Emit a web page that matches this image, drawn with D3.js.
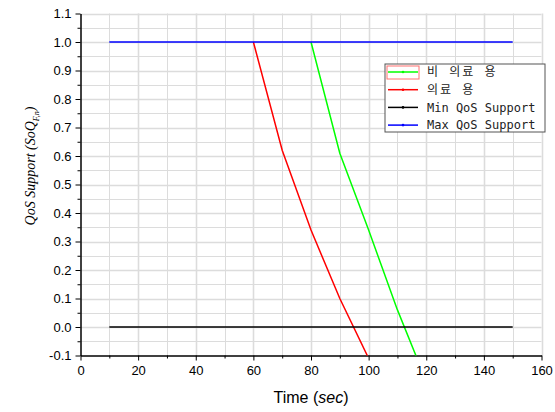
<!DOCTYPE html>
<html lang="ko">
<head>
    <meta charset="UTF-8">
    <title>QoS Support</title>
    <script src="https://d3js.org/d3.v7.min.js"></script>
    <style>
        body { margin: 0; background: #fff; }
        svg { display: block; font-family: Arial, "Liberation Sans", sans-serif; }
        .tick text { font-size: 13px; fill: #000; }
        .legend text { font-family: "DejaVu Sans Mono", "Noto Sans CJK KR", monospace; font-size: 12px; fill: #222; }
    </style>
</head>
<body>
    <svg id="chart"></svg>
    <script>
        // data
        const medicalTime = [60, 70, 80, 90, 100];
        const medicalVal = [1.0, 0.62, 0.34, 0.10, -0.11];
        const nonMedicalTime = [80, 90, 100, 110, 120];
        const nonMedicalVal = [1.0, 0.61, 0.34, 0.06, -0.19];
        const refTime = [10, 150];
        const minVal = [0, 0];
        const maxVal = [1, 1];
        const xTicks = [0, 20, 40, 60, 80, 100, 120, 140, 160];
        const yTicks = [-0.1, 0.0, 0.1, 0.2, 0.3, 0.4, 0.5, 0.6, 0.7, 0.8, 0.9, 1.0, 1.1];
        const legendNames = ["비 의료 용", "의료 용", "Min QoS Support", "Max QoS Support"];
        const legendColors = ["#00ff00", "#ff0000", "#000000", "#0000ff"];

        const width = 555;
        const height = 412;
        const pLeft = 80.5, pRight = 541.5, pTop = 13.5, pBottom = 355.5;

        const svg = d3.select("#chart")
                      .attr("width", width)
                      .attr("height", height);

        const x = d3.scaleLinear().domain([0, 160]).range([pLeft, pRight]);
        const y = d3.scaleLinear().domain([-0.1, 1.1]).range([pBottom, pTop]);

        // grid
        const gx = d3.range(10, 161, 10);
        const gy = d3.range(-0.05, 1.101, 0.05);
        svg.append("g").selectAll("line").data(gx).enter().append("line")
           .attr("x1", d => Math.round(x(d)) + 0.5).attr("x2", d => Math.round(x(d)) + 0.5)
           .attr("y1", pTop).attr("y2", pBottom)
           .attr("stroke", "#dcdcdc").attr("stroke-width", d => d % 20 === 0 ? 1.6 : 1);
        svg.append("g").selectAll("line").data(gy).enter().append("line")
           .attr("x1", pLeft).attr("x2", pRight)
           .attr("y1", d => Math.round(y(d)) + 0.5).attr("y2", d => Math.round(y(d)) + 0.5)
           .attr("stroke", "#dcdcdc").attr("stroke-width", (d, i) => i % 2 === 1 ? 1.6 : 1);

        // minor ticks
        svg.append("g")
           .attr("transform", `translate(0, ${pBottom})`)
           .call(d3.axisBottom(x).tickValues(d3.range(10, 160, 20)).tickSize(3).tickFormat(""))
           .call(g => g.select(".domain").remove());
        svg.append("g")
           .attr("transform", `translate(${pLeft}, 0)`)
           .call(d3.axisLeft(y).tickValues(d3.range(-0.05, 1.1, 0.1)).tickSize(3).tickFormat(""))
           .call(g => g.select(".domain").remove());

        // axes
        svg.append("g")
           .attr("transform", `translate(0, ${pBottom})`)
           .call(d3.axisBottom(x).tickValues(xTicks).tickSize(5).tickSizeOuter(0).tickPadding(5))
           .call(g => g.select(".domain").attr("stroke-width", 1.5));
        svg.append("g")
           .attr("transform", `translate(${pLeft}, 0)`)
           .call(d3.axisLeft(y).tickValues(yTicks).tickSize(5).tickSizeOuter(0).tickPadding(4).tickFormat(d3.format(".1f")))
           .call(g => g.select(".domain").attr("stroke-width", 1.5));
        svg.selectAll(".tick text").text(function() { return this.textContent.replace("−", "-"); });

        // lines
        svg.append("clipPath").attr("id", "clip")
           .append("rect").attr("x", pLeft).attr("y", pTop).attr("width", pRight - pLeft).attr("height", pBottom - pTop);
        const line = d3.line().x(d => x(d[0])).y(d => y(d[1]));
        const series = [
            { t: nonMedicalTime, v: nonMedicalVal, c: legendColors[0] },
            { t: medicalTime, v: medicalVal, c: legendColors[1] },
            { t: refTime, v: minVal, c: legendColors[2] },
            { t: refTime, v: maxVal, c: legendColors[3] }
        ];
        svg.append("g").attr("clip-path", "url(#clip)")
           .selectAll("path").data(series).enter().append("path")
           .attr("d", s => line(s.t.map((t, i) => [t, s.v[i]])))
           .attr("fill", "none")
           .attr("stroke", s => s.c)
           .attr("stroke-width", 1.5);

        // legend
        const lg = svg.append("g").attr("class", "legend").attr("transform", "translate(385, 64)");
        lg.append("rect").attr("width", 160).attr("height", 68)
          .attr("fill", "#fff").attr("stroke", "#555").attr("stroke-width", 1);
        lg.append("rect").attr("x", 2).attr("y", 2).attr("width", 32).attr("height", 13)
          .attr("fill", "none").attr("stroke", "#ff7070").attr("stroke-width", 1);
        const item = lg.selectAll(".item").data(legendNames).enter().append("g")
          .attr("transform", (d, i) => `translate(0, ${8 + i * 17.7})`);
        item.append("line").attr("x1", 3).attr("x2", 33)
          .attr("stroke", (d, i) => legendColors[i]).attr("stroke-width", 1.5);
        item.append("circle").attr("cx", 18).attr("r", 1.3)
          .attr("fill", (d, i) => legendColors[i]);
        item.append("text").attr("x", 42).attr("dy", "0.35em")
          .attr("letter-spacing", (d, i) => i < 2 ? 2 : 0)
          .text(d => d);

        // axis titles
        const xt = svg.append("text")
           .attr("x", (pLeft + pRight) / 2).attr("y", 403)
           .attr("text-anchor", "middle").attr("font-size", 16);
        xt.append("tspan").text("Time (");
        xt.append("tspan").attr("font-style", "italic").text("sec");
        xt.append("tspan").text(")");

        const yt = svg.append("text")
           .attr("transform", "translate(35, 166) rotate(-90)")
           .attr("text-anchor", "middle")
           .attr("font-family", "'Liberation Serif', 'Times New Roman', serif")
           .attr("font-style", "italic").attr("font-size", 14);
        yt.append("tspan").text("QoS Support (SoQ");
        yt.append("tspan").attr("font-size", 8).attr("dy", 4).text("F,n");
        yt.append("tspan").attr("dy", -4).text(")");
    </script>
</body>
</html>
